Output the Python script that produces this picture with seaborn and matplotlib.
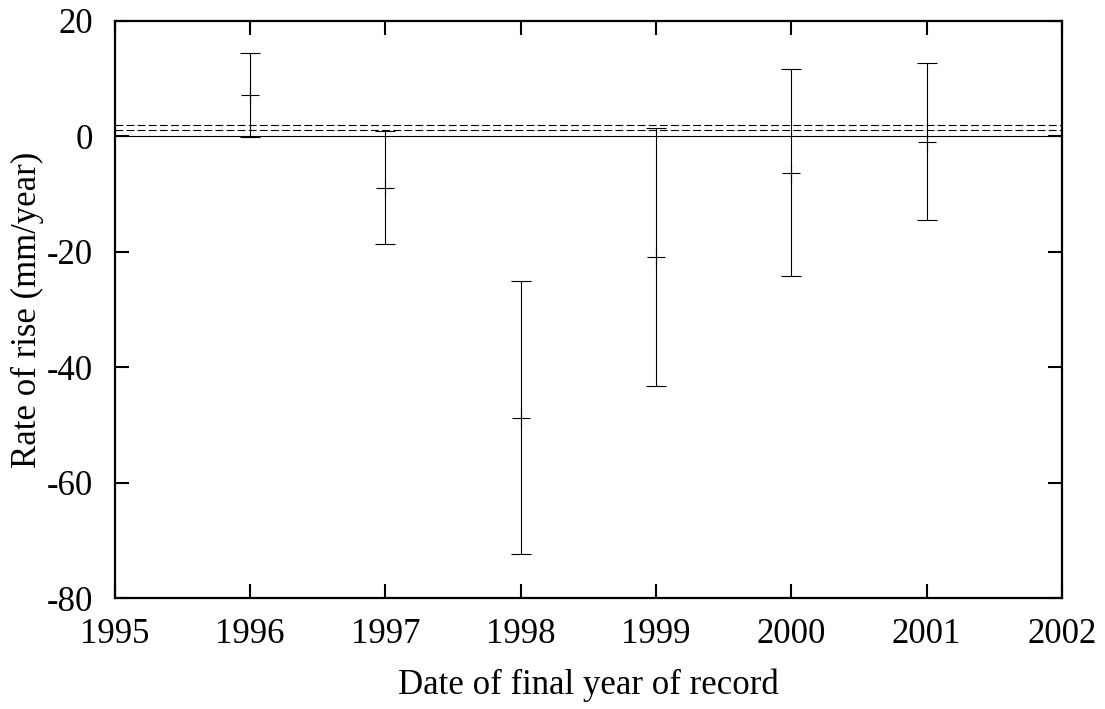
import matplotlib
matplotlib.use('Agg')
import matplotlib.pyplot as plt
import seaborn as sns
import pandas as pd

# Values
YEARS = [1996, 1997, 1998, 1999, 2000, 2001]
RATES = [7.1, -8.9, -48.7, -20.9, -6.3, -0.95]
LOWER = [-0.15, -18.7, -72.3, -43.2, -24.15, -14.6]
UPPER = [14.35, 0.95, -25.1, 1.35, 11.6, 12.7]
REF_LINES = [1.0, 2.0]

sns.set_style('white')
plt.rcParams['font.family'] = ['Liberation Serif', 'DejaVu Serif']
plt.rcParams['text.color'] = 'black'
plt.rcParams['axes.labelcolor'] = 'black'


def main():
    df = pd.DataFrame({'year': YEARS, 'rate': RATES,
                       'lower': LOWER, 'upper': UPPER})

    fig = plt.figure(figsize=(11.05, 7.09), dpi=100)
    ax = fig.add_axes([0.104, 0.156, 0.857, 0.815])

    # Zero line and the two dashed reference lines
    ax.axhline(0, color='black', lw=0.8, zorder=1)
    for val in REF_LINES:
        ax.axhline(val, color='black', lw=0.8, ls=(0, (7, 3)), zorder=1)

    # Error bars
    yerr = [df['rate'] - df['lower'], df['upper'] - df['rate']]
    ax.errorbar(df['year'], df['rate'], yerr=yerr, fmt='none',
                ecolor='black', elinewidth=0.8, capsize=7, capthick=0.8,
                zorder=2)

    # Centre points
    sns.scatterplot(data=df, x='year', y='rate', marker='+', s=160,
                    color='black', linewidth=0.8, ax=ax, zorder=3)

    ax.set_xlim(1995, 2002)
    ax.set_ylim(-80, 20)
    ax.set_xticks(range(1995, 2003))
    ax.set_yticks(range(-80, 21, 20))
    ax.set_xticklabels([str(v) for v in range(1995, 2003)])
    ax.set_yticklabels([str(v) for v in range(-80, 21, 20)])

    ax.tick_params(direction='in', length=10, width=1.5, labelsize=25,
                   top=True, right=True, bottom=True, left=True,
                   colors='black')
    ax.tick_params(axis='y', pad=16)
    ax.tick_params(axis='x', pad=14)
    for side in ax.spines.values():
        side.set_visible(True)
        side.set_linewidth(1.6)
        side.set_color('black')

    ax.set_xlabel('Date of final year of record', fontsize=25, labelpad=13)
    ax.set_ylabel('Rate of rise (mm/year)', fontsize=25, labelpad=2)

    fig.savefig('out.png', dpi=100, facecolor='white')
    plt.close()


if __name__ == "__main__":
    main()
